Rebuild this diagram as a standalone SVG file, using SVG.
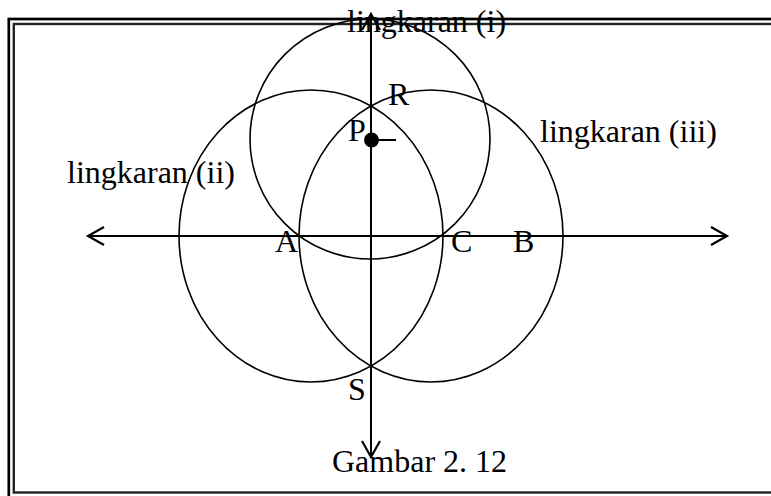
<svg xmlns="http://www.w3.org/2000/svg" width="771" height="496" viewBox="0 0 771 496">
<style>
.t{font-family:"Liberation Serif","Times New Roman",serif;font-size:32px;fill:#000}
.c{fill:none;stroke:#000;stroke-width:1.6}
.ax{fill:none;stroke:#000;stroke-width:2}
</style>
<defs>
<marker id="arr" viewBox="0 0 20 20" refX="17" refY="10" markerWidth="20" markerHeight="20" markerUnits="userSpaceOnUse" orient="auto">
<path d="M1,1 L17,10 L1,19" fill="none" stroke="#000" stroke-width="2.2"/>
</marker>
</defs>
<rect width="771" height="496" fill="#fff"/>
<g id="frame">
<rect x="8.8" y="19" width="780" height="478.5" fill="none" stroke="#000" stroke-width="2.7"/>
<rect x="13.8" y="24" width="770" height="468.5" fill="none" stroke="#222" stroke-width="2.4"/>
</g>
<g id="circle-i"><ellipse class="c" cx="370" cy="139" rx="120" ry="120"/></g>
<g id="circle-ii"><ellipse class="c" cx="311" cy="236" rx="132" ry="146"/></g>
<g id="circle-iii"><ellipse class="c" cx="431" cy="236" rx="132" ry="146"/></g>
<g id="connectors">
<line class="ax" x1="727" y1="236" x2="88" y2="236" marker-end="url(#arr)"/>
<line class="ax" x1="88" y1="236" x2="727" y2="236" marker-end="url(#arr)"/>
<line class="ax" x1="371" y1="457" x2="371" y2="14" marker-end="url(#arr)"/>
<line class="ax" x1="371" y1="14" x2="371" y2="457" marker-end="url(#arr)"/>
<line class="ax" x1="371" y1="140" x2="396" y2="140"/>
</g>
<g id="point-P"><circle cx="371.5" cy="140" r="7.5" fill="#000"/></g>
<g id="labels">
<text class="t" x="347" y="32">lingkaran (i)</text>
<text class="t" x="67" y="183">lingkaran (ii)</text>
<text class="t" x="540" y="142">lingkaran (iii)</text>
<text class="t" x="388" y="105">R</text>
<text class="t" x="348" y="141">P</text>
<text class="t" x="275" y="252">A</text>
<text class="t" x="451" y="252">C</text>
<text class="t" x="513" y="252">B</text>
<text class="t" x="348" y="400">S</text>
<text class="t" x="332" y="472">Gambar 2. 12</text>
</g>
</svg>
